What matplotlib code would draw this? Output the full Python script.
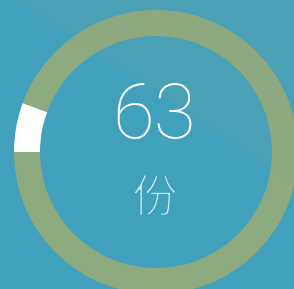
import matplotlib.pyplot as plt
from matplotlib.patches import Polygon
import matplotlib.patheffects as pe

# values: small white slice, remainder green
slices = [5.6, 94.4]
slice_colors = ["#ffffff", "#8dab7f"]
value_label = "63"
unit_label = "份"

W, H = 294, 289
bg = "#41a0bc"
fig = plt.figure(figsize=(W / 100, H / 100), dpi=100)
fig.patch.set_facecolor(bg)
ax = fig.add_axes([0, 0, 1, 1])

ax.pie(
    slices,
    colors=slice_colors,
    center=(156, H - 152),
    radius=142,
    startangle=180,
    counterclock=False,
    wedgeprops=dict(width=26, linewidth=0),
    frame=True,
)
ax.set_xlim(0, W)
ax.set_ylim(0, H)
ax.set_aspect("equal")
ax.axis("off")

# faint diagonal shade over the upper-right half
shade = Polygon(
    [(18, H), (W, H), (W, H - 183)],
    closed=True, facecolor="#9ca07f", alpha=0.1, linewidth=0, zorder=5,
)
ax.add_patch(shade)

ax.text(154, H - 117, value_label, ha="center", va="center", color="white",
        fontsize=55, fontfamily=["Roboto", "DejaVu Sans"], fontweight="light", zorder=6)
# thin the CJK glyph by eroding its edge with the background colour
ax.text(155, H - 199, unit_label, ha="center", va="center", color="#e8f2f5",
        fontsize=33, fontfamily=["Noto Sans CJK SC", "DejaVu Sans"], zorder=6,
        path_effects=[pe.Normal(), pe.Stroke(linewidth=1.6, foreground=bg)])

fig.savefig("out.png", dpi=100, facecolor=fig.get_facecolor())
